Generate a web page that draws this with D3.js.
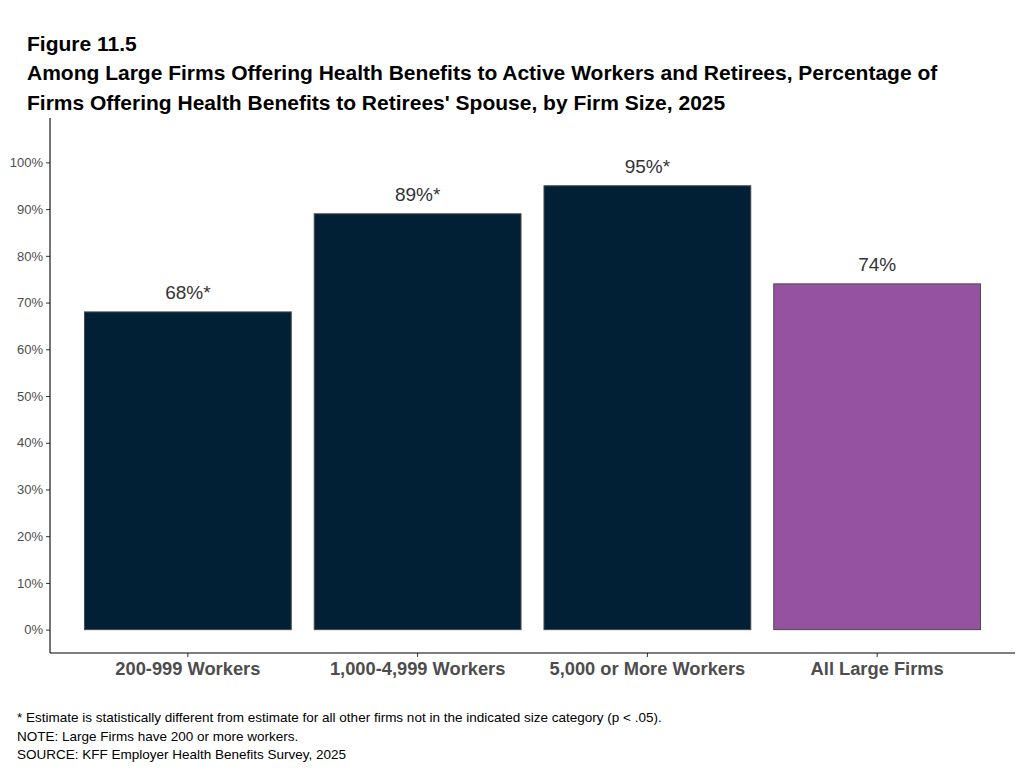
<!DOCTYPE html>
<html>
<head>
<meta charset="utf-8">
<script src="https://cdn.jsdelivr.net/npm/d3@7"></script>
<style>
  html, body { margin: 0; padding: 0; background: #fff; }
  svg { display: block; }
</style>
</head>
<body>
<svg id="chart" width="1023" height="770"></svg>
<script>
const categories = ["200-999 Workers", "1,000-4,999 Workers", "5,000 or More Workers", "All Large Firms"];
const values = [68, 89, 95, 74];
const valueLabels = ["68%*", "89%*", "95%*", "74%"];
const barColors = ["#012036", "#012036", "#012036", "#9452A0"];
const yTicks = [0, 10, 20, 30, 40, 50, 60, 70, 80, 90, 100];
const titleLines = [
  "Figure 11.5",
  "Among Large Firms Offering Health Benefits to Active Workers and Retirees, Percentage of",
  "Firms Offering Health Benefits to Retirees' Spouse, by Firm Size, 2025"
];
const notes = [
  "* Estimate is statistically different from estimate for all other firms not in the indicated size category (p < .05).",
  "NOTE: Large Firms have 200 or more workers.",
  "SOURCE: KFF Employer Health Benefits Survey, 2025"
];

const svg = d3.select("#chart");
const pLeft = 50, pRight = 1015, pTop = 118, pBottom = 653;

const x = d3.scaleBand().domain(categories).range([pLeft, pRight]).paddingInner(0.1).paddingOuter(0.15);
const y = d3.scaleLinear().domain([-5, 109.5]).range([pBottom, pTop]);

// Title
svg.append("g").selectAll("text").data(titleLines).join("text")
  .attr("x", 27).attr("y", (d, i) => 50.5 + i * 29.5)
  .attr("font-family", "Liberation Sans, Arial, sans-serif")
  .attr("font-weight", "bold").attr("font-size", 21).attr("fill", "#000")
  .text(d => d);

// Bars
svg.append("g").selectAll("rect").data(values).join("rect")
  .attr("x", (d, i) => x(categories[i]))
  .attr("width", x.bandwidth())
  .attr("y", d => y(d))
  .attr("height", d => y(0) - y(d))
  .attr("fill", (d, i) => barColors[i])
  .attr("stroke", "#4a4a4a").attr("stroke-width", 1);

// Value labels
svg.append("g").selectAll("text").data(values).join("text")
  .attr("x", (d, i) => x(categories[i]) + x.bandwidth() / 2)
  .attr("y", d => y(d) - 13)
  .attr("text-anchor", "middle")
  .attr("font-family", "Liberation Sans, Arial, sans-serif")
  .attr("font-size", 19).attr("fill", "#333")
  .text((d, i) => valueLabels[i]);

// Y axis
const yAxis = svg.append("g").attr("transform", `translate(${pLeft},0)`)
  .call(d3.axisLeft(y).tickValues(yTicks).tickFormat(d => d + "%").tickSize(4).tickPadding(3));
yAxis.select(".domain").remove();
yAxis.selectAll(".tick line").attr("stroke", "#333");
yAxis.selectAll(".tick text").attr("font-family", "Liberation Sans, Arial, sans-serif")
  .attr("font-size", 13).attr("fill", "#4d4d4d");
svg.append("line").attr("x1", pLeft).attr("x2", pLeft).attr("y1", pTop).attr("y2", pBottom)
  .attr("stroke", "#000").attr("stroke-width", 1.1);

// X axis
const xAxis = svg.append("g").attr("transform", `translate(0,${pBottom})`)
  .call(d3.axisBottom(x).tickSize(4).tickPadding(5));
xAxis.select(".domain").remove();
xAxis.selectAll(".tick line").attr("stroke", "#333");
xAxis.selectAll(".tick text").attr("font-family", "Liberation Sans, Arial, sans-serif")
  .attr("font-size", 18.3).attr("font-weight", "bold").attr("fill", "#4d4d4d");
svg.append("line").attr("x1", pLeft).attr("x2", pRight).attr("y1", pBottom).attr("y2", pBottom)
  .attr("stroke", "#000").attr("stroke-width", 1.1);

// Notes
svg.append("g").selectAll("text").data(notes).join("text")
  .attr("x", 17).attr("y", (d, i) => 722 + i * 18.5)
  .attr("font-family", "Liberation Sans Narrow, Arial Narrow, Liberation Sans, sans-serif")
  .attr("font-size", 13.5).attr("fill", "#000")
  .text(d => d);
</script>
</body>
</html>
